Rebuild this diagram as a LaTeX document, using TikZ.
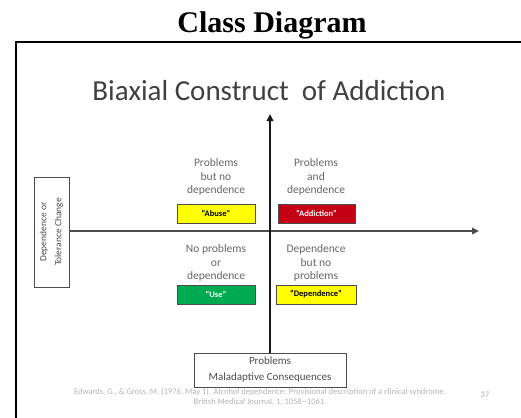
\documentclass[tikz,border=0pt]{standalone}
\usepackage{fontspec}
\setmainfont{Liberation Serif}
\newfontfamily\slidefont{Carlito}
\usetikzlibrary{arrows.meta}
\definecolor{tagyellow}{RGB}{255,255,0}
\definecolor{tagred}{RGB}{196,0,20}
\definecolor{taggreen}{RGB}{0,170,80}

\begin{document}
\begin{tikzpicture}[x=1pt,y=-1pt]
    \useasboundingbox (0,0) rectangle (521,417);
    \tikzset{
        axis/.style     = {line width=2pt, -{Triangle[length=7pt,width=6.5pt]}},
        quad/.style     = {align=center, text=black!60,
                           font=\slidefont\fontsize{11.5}{13.5}\selectfont},
        tag/.style      = {draw=black!70, line width=0.9pt, inner sep=0pt,
                           minimum height=19pt,
                           font=\slidefont\bfseries\fontsize{8.5}{9}\selectfont},
        axisbox/.style  = {draw=black!70, line width=0.8pt, fill=white,
                           align=center, text=black!70, inner sep=0pt},
        smalltext/.style= {text=black!30, align=center,
                           font=\slidefont\fontsize{8.5}{9.5}\selectfont}
    }
    % page title and slide frame
    \node[anchor=base, font=\bfseries\fontsize{30}{32}\selectfont] (title) at (272,33) {Class Diagram};
    \draw[line width=1.8pt] (16,418) -- (16,42) -- (522,42);
    \node[anchor=base, text=black!75, font=\slidefont\fontsize{29}{32}\selectfont] (heading) at (269,100) {Biaxial Construct\ \ of Addiction};
    % axis boxes
    \node[axisbox, rotate=90, minimum width=110pt, minimum height=35pt,
          font=\slidefont\fontsize{9.5}{15}\selectfont] (dep) at (51.5,232) {Dependence or\\Tolerance Change};
    \node[axisbox, minimum width=152pt, minimum height=34pt,
          font=\slidefont\fontsize{11}{16}\selectfont] (prob) at (270,370) {Problems\\Maladaptive Consequences};
    \coordinate (xend) at (479,231);
    \coordinate (yend) at (270,114);
    \draw[axis, draw=black!70, line width=2.4pt] (dep.south |- xend) -- (xend);
    \draw[axis, draw=black!90] (prob.north) -- (yend);
    % quadrants
    \node[quad] (q1) at (216,177) {Problems\\but no\\dependence};
    \node[quad] (q2) at (316,177) {Problems\\and\\dependence};
    \node[quad] (q3) at (216,263) {No problems\\or\\dependence};
    \node[quad] (q4) at (316,263) {Dependence\\but no\\problems};
    \node[tag, fill=tagyellow, minimum width=78pt] (abuse) at (216,213.5) {“Abuse”};
    \node[tag, fill=tagred, text=white, minimum width=77pt] (addict) at (316.5,213.5) {“Addiction”};
    \node[tag, fill=taggreen, text=white, minimum width=78pt] (use) at (216,294.5) {“Use”};
    \node[tag, fill=tagyellow, minimum width=80pt] (depend) at (316,294.5) {“Dependence”};
    % reference line
    \node[smalltext] (cite) at (260,397) {Edwards, G., \& Gross, M. (1976, May 1). Alcohol dependence: Provisional description of a clinical syndrome.\\British Medical Journal, 1, 1058--1061.};
    \node[smalltext] (page) at (485,395) {37};
\end{tikzpicture}
\end{document}
